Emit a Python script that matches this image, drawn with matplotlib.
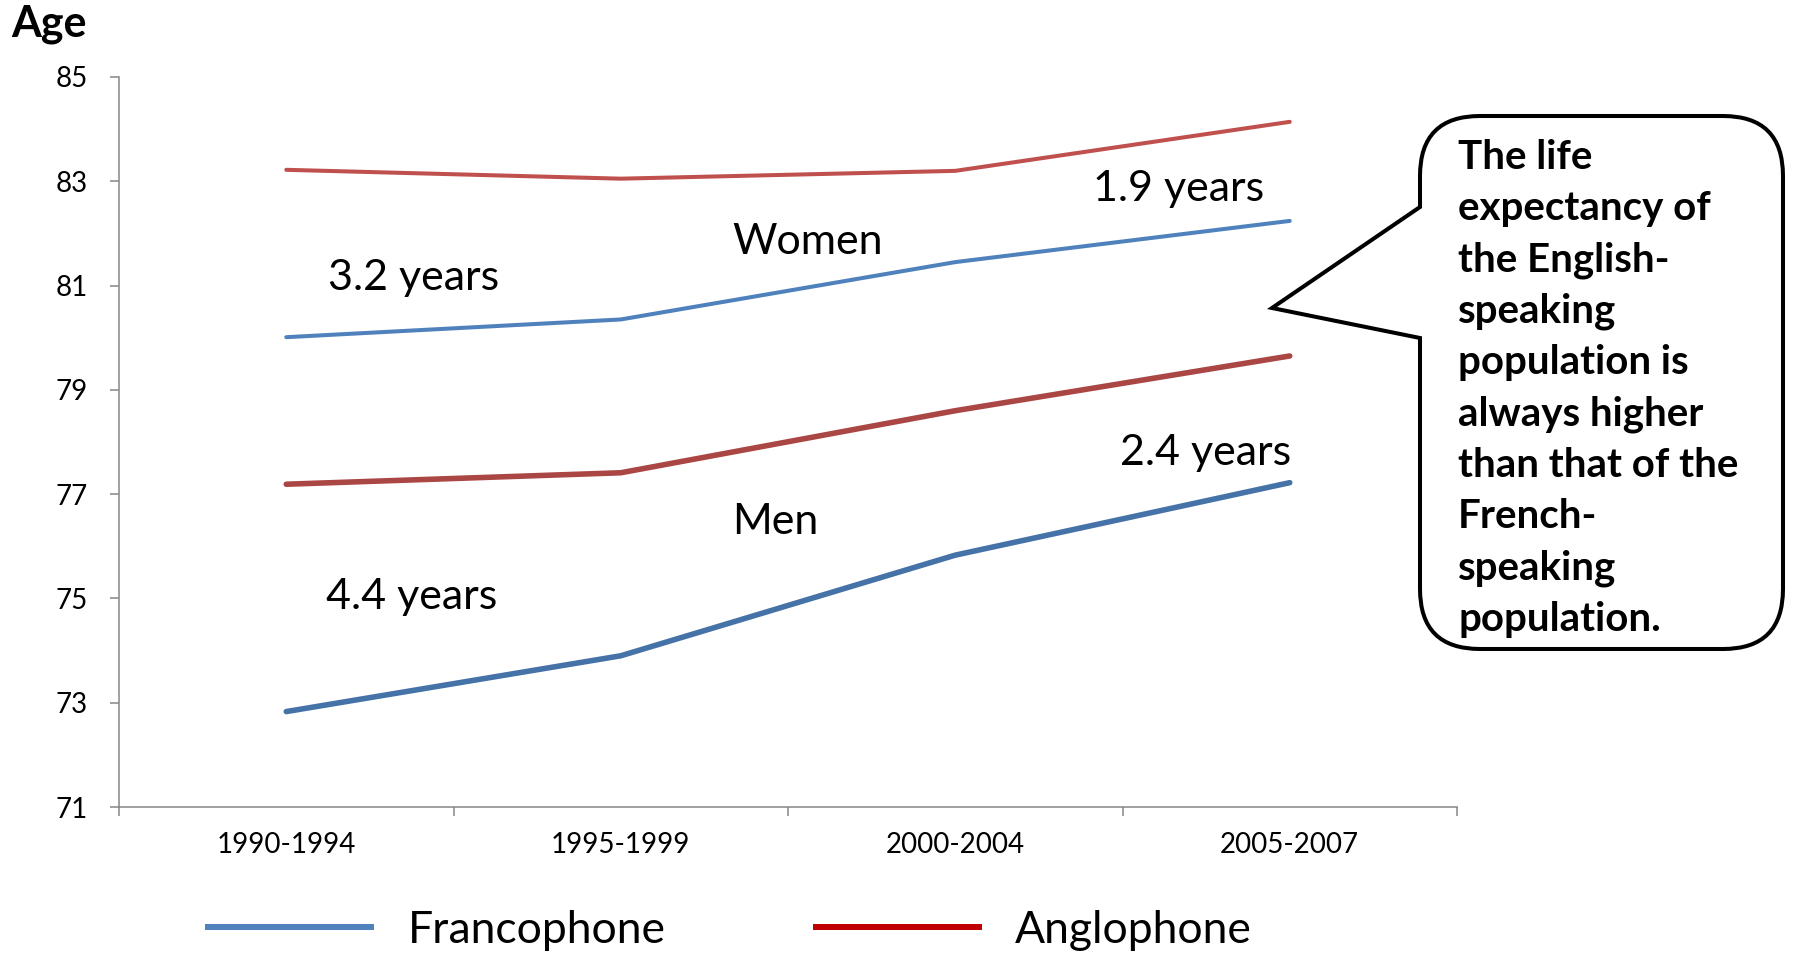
import matplotlib.pyplot as plt
from matplotlib.path import Path
from matplotlib.patches import PathPatch
from matplotlib.lines import Line2D

plt.rcParams['font.family'] = ['Lato', 'DejaVu Sans']

# data
periods = ['1990-1994', '1995-1999', '2000-2004', '2005-2007']
women_franco = [80.01, 80.35, 81.45, 82.24]
women_anglo = [83.22, 83.05, 83.20, 84.14]
men_franco = [72.83, 73.90, 75.83, 77.22]
men_anglo = [77.19, 77.41, 78.60, 79.65]
y_ticks = [71, 73, 75, 77, 79, 81, 83, 85]

W, H = 1794, 955
fig = plt.figure(figsize=(W / 100, H / 100), dpi=100)
ax = fig.add_axes([119 / W, 1 - 807 / H, 1338 / W, 730 / H])

x = range(len(periods))
ax.plot(x, women_anglo, color='#C0504D', lw=2.9, solid_capstyle='round')
ax.plot(x, women_franco, color='#4F81BD', lw=2.9, solid_capstyle='round')
ax.plot(x, men_anglo, color='#AA4643', lw=4.0, solid_capstyle='round')
ax.plot(x, men_franco, color='#4572A7', lw=4.0, solid_capstyle='round')

ax.set_xlim(-0.5, len(periods) - 0.5)
ax.set_ylim(71, 85)
ax.set_yticks(y_ticks)
ax.set_xticks(list(x))
ax.set_xticklabels(periods)
ax.set_xticks([i - 0.5 for i in range(len(periods) + 1)], minor=True)
ax.tick_params(axis='x', which='major', length=0, pad=18, labelsize=20)
ax.tick_params(axis='x', which='minor', length=6.5, width=1.1, color='#868686', direction='out')
ax.tick_params(axis='y', length=6.5, width=1.1, color='#868686', direction='out', pad=16, labelsize=20)
for s in ['top', 'right']:
    ax.spines[s].set_visible(False)
for s in ['left', 'bottom']:
    ax.spines[s].set_color('#868686')
    ax.spines[s].set_linewidth(1.1)

# gap labels
notes = [
    ('3.2 years', 0.125, 80.92),
    ('Women', 1.333, 81.61),
    ('1.9 years', 2.412, 82.63),
    ('2.4 years', 2.493, 77.56),
    ('Men', 1.333, 76.23),
    ('4.4 years', 0.119, 74.80),
]
for txt, nx, ny in notes:
    ax.text(nx, ny, txt, fontsize=31, ha='left', va='baseline')

fig.text(11 / W, 1 - 37 / H, 'Age', fontsize=31, fontweight='bold', ha='left', va='baseline')

# speech bubble
L, R, T, B, r = 1420, 1783, 116, 649, 60
tip = (1272, 308)
pts = [(L + r, T), (R - r, T), (R, T), (R, T + r), (R, B - r), (R, B), (R - r, B),
       (L + r, B), (L, B), (L, B - r), (L, 338), tip, (L, 207), (L, T + r), (L, T), (L + r, T), (L + r, T)]
codes = [Path.MOVETO, Path.LINETO, Path.CURVE3, Path.CURVE3, Path.LINETO, Path.CURVE3, Path.CURVE3,
         Path.LINETO, Path.CURVE3, Path.CURVE3, Path.LINETO, Path.LINETO, Path.LINETO, Path.LINETO,
         Path.CURVE3, Path.CURVE3, Path.CLOSEPOLY]
verts = [(px / W, 1 - py / H) for px, py in pts]
bubble = PathPatch(Path(verts, codes), transform=fig.transFigure, facecolor='white',
                   edgecolor='black', lw=2.9, joinstyle='miter')
fig.patches.append(bubble)

bubble_lines = ['The life', 'expectancy of', 'the English-', 'speaking', 'population is',
                'always higher', 'than that of the', 'French-', 'speaking', 'population.']
for i, line in enumerate(bubble_lines):
    fig.text(1458 / W, 1 - (169 + i * 51.3) / H, line, fontsize=29, fontweight='bold',
             ha='left', va='baseline')

handles = [Line2D([], [], color='#4F81BD', lw=4.3), Line2D([], [], color='#C00000', lw=4.3)]
fig.legend(handles, ['Francophone', 'Anglophone'], ncol=2, loc='center left',
           bbox_to_anchor=(208 / W, 1 - 930 / H), frameon=False, fontsize=32,
           handlelength=3.67, handletextpad=0.82, columnspacing=3.38,
           borderpad=0, borderaxespad=0)

fig.savefig('out.png', dpi=100)
